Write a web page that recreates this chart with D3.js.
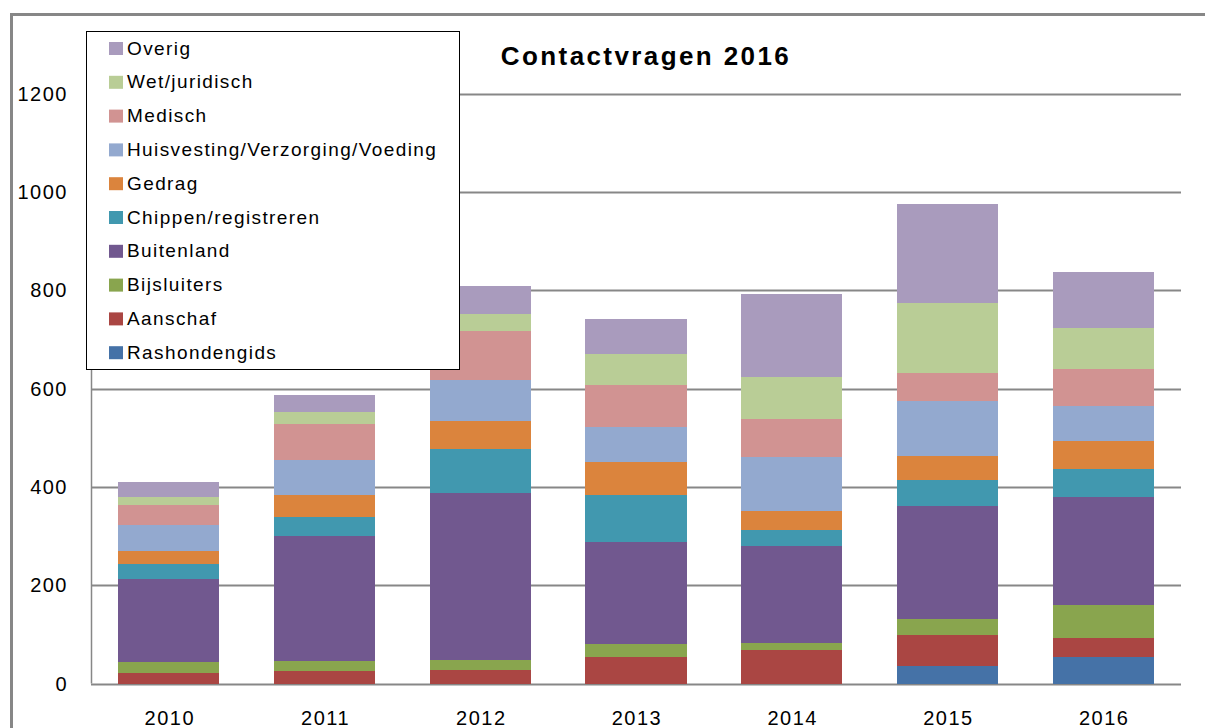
<!DOCTYPE html>
<html>
<head>
<meta charset="utf-8">
<script src="https://cdn.jsdelivr.net/npm/d3@7"></script>
<style>
  body { margin: 0; background: #fff; }
  text { font-family: "Liberation Sans", Arial, sans-serif; }
</style>
</head>
<body>
<script>
const width = 1205,
    height = 728

const years = ["2010", "2011", "2012", "2013", "2014", "2015", "2016"]
const series = ["Rashondengids", "Aanschaf", "Bijsluiters", "Buitenland", "Chippen/registreren",
    "Gedrag", "Huisvesting/Verzorging/Voeding", "Medisch", "Wet/juridisch", "Overig"]

// values per year, same order as years
const rashondengids = [0, 0, 0, 0, 0, 36, 54]
const aanschaf = [21, 25, 27, 54, 68, 62, 38]
const bijsluiters = [23, 21, 21, 27, 14, 33, 67]
const buitenland = [169, 253, 340, 206, 198, 230, 220]
const chippen = [31, 40, 88, 96, 33, 53, 57]
const gedrag = [26, 44, 58, 67, 38, 49, 57]
const huisvesting = [53, 72, 83, 72, 110, 111, 72]
const medisch = [41, 73, 100, 86, 77, 57, 75]
const wet = [16, 25, 35, 63, 86, 143, 83]
const overig = [29, 33, 57, 71, 169, 201, 114]

const yTicks = [0, 200, 400, 600, 800, 1000, 1200]
const colors = ["#4572A7", "#AA4643", "#89A54E", "#71588F", "#4198AF",
    "#DB843D", "#93A9CF", "#D19392", "#B9CD96", "#A99BBD"]

const cols = [rashondengids, aanschaf, bijsluiters, buitenland, chippen,
    gedrag, huisvesting, medisch, wet, overig]
const table = years.map((y, i) => {
    const row = { year: y }
    series.forEach((s, j) => { row[s] = cols[j][i] })
    return row
})

const svg = d3.select("body")
    .append("svg")
    .attr("width", width)
    .attr("height", height)

// outer chart frame (cut off at right/bottom)
svg.append("rect")
    .attr("x", 11.5).attr("y", 14.5)
    .attr("width", 1205).attr("height", 740)
    .attr("fill", "none")
    .attr("stroke", "#878787")
    .attr("stroke-width", 3)

const x = d3.scaleBand()
    .domain(years)
    .range([91, 1181])
    .paddingInner(0.35)
    .paddingOuter(0.175)

const y = d3.scaleLinear()
    .domain([0, 1200])
    .range([683.5, 93.5])

const color = d3.scaleOrdinal().domain(series).range(colors)

// gridlines
svg.append("g")
    .selectAll("line")
    .data(yTicks)
    .join("line")
    .attr("x1", 91).attr("x2", 1181)
    .attr("y1", d => Math.round(y(d)) + 0.5)
    .attr("y2", d => Math.round(y(d)) + 0.5)
    .attr("stroke", "#878787")
    .attr("stroke-width", 2)

// y axis line
svg.append("line")
    .attr("x1", 91.5).attr("x2", 91.5)
    .attr("y1", y(1200)).attr("y2", y(0))
    .attr("stroke", "#878787")
    .attr("stroke-width", 1.5)

const stacked = d3.stack().keys(series)(table)

svg.append("g")
    .attr("shape-rendering", "crispEdges")
    .selectAll("g")
    .data(stacked)
    .join("g")
    .attr("fill", d => color(d.key))
    .selectAll("rect")
    .data(d => d)
    .join("rect")
    .attr("x", d => x(d.data.year))
    .attr("width", x.bandwidth())
    .attr("y", d => y(d[1]))
    .attr("height", d => y(d[0]) - y(d[1]))

// y tick labels
svg.append("g")
    .selectAll("text")
    .data(yTicks)
    .join("text")
    .attr("x", 68)
    .attr("y", d => y(d))
    .attr("dy", "0.35em")
    .attr("text-anchor", "end")
    .style("font-size", "20px")
    .style("letter-spacing", "1.5px")
    .text(d => d)

// x labels
svg.append("g")
    .selectAll("text")
    .data(years)
    .join("text")
    .attr("x", d => x(d) + x.bandwidth() / 2 + 1)
    .attr("y", 725)
    .attr("text-anchor", "middle")
    .style("font-size", "20px")
    .style("letter-spacing", "1.5px")
    .text(d => d)

// title
svg.append("text")
    .attr("x", 646)
    .attr("y", 65)
    .attr("text-anchor", "middle")
    .style("font-size", "26px")
    .style("font-weight", "bold")
    .style("letter-spacing", "2.4px")
    .text("Contactvragen 2016")

// legend
const legend = svg.append("g")
legend.append("rect")
    .attr("x", 86.5).attr("y", 31.5)
    .attr("width", 373).attr("height", 338)
    .attr("fill", "#fff")
    .attr("stroke", "#000")
    .attr("stroke-width", 1)

const items = legend.selectAll("g")
    .data(series.slice().reverse())
    .join("g")
    .attr("transform", (d, i) => `translate(109, ${48 + i * 33.8})`)

items.append("rect")
    .attr("x", 0).attr("y", -6)
    .attr("width", 14).attr("height", 13)
    .attr("fill", d => color(d))

items.append("text")
    .attr("x", 18)
    .attr("dy", "0.35em")
    .style("font-size", "19px")
    .style("letter-spacing", "1.4px")
    .text(d => d)
</script>
</body>
</html>
